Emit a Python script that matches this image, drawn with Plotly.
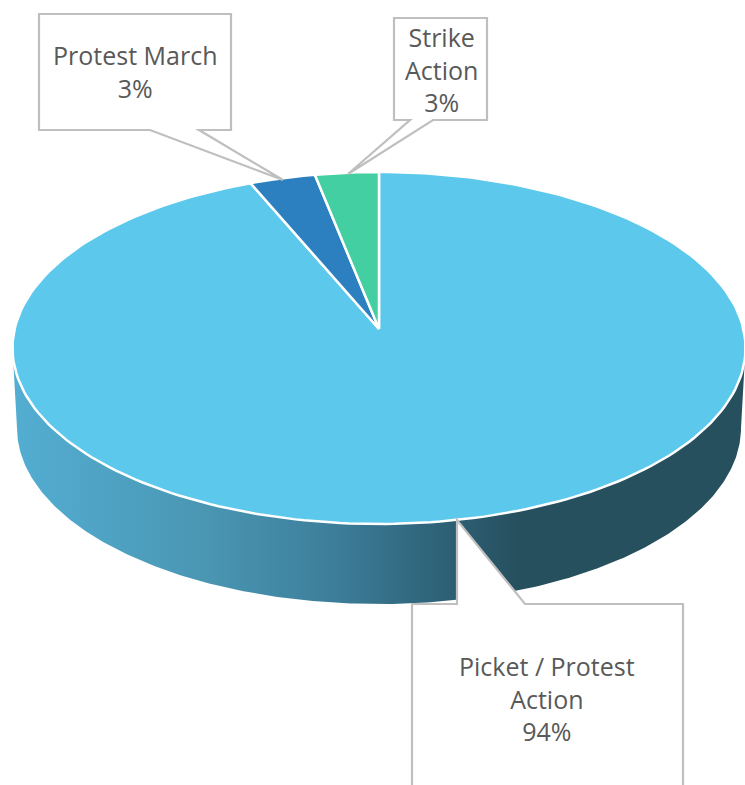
import numpy as np
import plotly.graph_objects as go

# --- data ---
categories = ["Picket / Protest<br>Action", "Protest March", "Strike<br>Action"]
values = [94.3, 2.9, 2.8]
slice_colors = ["#5CC8EC", "#2C80C0", "#43CFA2"]

# --- pie projection (layout, in page pixels) ---
CX, CY, RX, RY = 379.0, 348.0, 366.5, 176.0
APEX_Y = 329.0
WALL_RX, WALL_CY = 362.0, 428.0
FONT = dict(family="Open Sans", size=25, color="#595959")
EDGE = "#BFBFBF"


def rim(f0, f1, n=240):
    t = 2 * np.pi * np.linspace(f0, f1, n)
    return CX + RX * np.sin(t), CY - RY * np.cos(t)


fig = go.Figure()

# side wall: top rim front half, then the lower rim back
a = np.linspace(0, np.pi, 300)
wx = np.concatenate([CX + RX * np.cos(a), CX + WALL_RX * np.cos(a[::-1])])
wy = np.concatenate([CY + RY * np.sin(a), WALL_CY + RY * np.sin(a[::-1])])
fig.add_trace(go.Scatter(
    x=wx, y=wy, mode="lines", fill="toself", line=dict(width=0),
    fillgradient=dict(type="horizontal", colorscale=[
        [0.0, "#53AED2"], [0.255, "#4A97B4"], [0.433, "#3D7F9B"],
        [0.583, "#2E6277"], [0.69, "#27505F"], [1.0, "#27505F"]]),
    hoverinfo="skip", showlegend=False))

# top-face slices, from the values
total = sum(values)
ends = np.cumsum([0] + values) / total
for i, (v, c) in enumerate(zip(values, slice_colors)):
    x, y = rim(ends[i], ends[i + 1])
    fig.add_trace(go.Scatter(
        x=np.concatenate([[CX], x, [CX]]),
        y=np.concatenate([[APEX_Y], y, [APEX_Y]]),
        mode="lines", fill="toself", fillcolor=c,
        line=dict(color="#FFFFFF", width=2.5),
        hoverinfo="skip", showlegend=False))


def box(points):
    return "M" + " L".join(f"{x},{y}" for x, y in points) + " Z"


callouts = [
    [(412, 604), (457, 604), (457, 520), (525, 604), (683, 604), (683, 800), (412, 800)],
    [(39, 14), (231, 14), (231, 130), (199, 130), (283, 180), (150, 130), (39, 130)],
    [(394, 18), (487, 18), (487, 120), (433, 120), (348, 174), (410, 120), (394, 120)],
]
label_pos = [(547, 698), (135, 71), (441, 69)]

shapes = [dict(type="path", path=box(p), xref="x", yref="y", fillcolor="#FFFFFF",
               line=dict(color=EDGE, width=2.2), layer="above") for p in callouts]

annotations = [dict(x=px, y=py, xref="x", yref="y", showarrow=False, align="center",
                    xanchor="center", yanchor="middle", font=FONT,
                    text=f"{name}<br>{round(v / total * 100)}%")
               for name, v, (px, py) in zip(categories, values, label_pos)]

fig.update_layout(
    width=745, height=785, margin=dict(l=0, r=0, t=0, b=0),
    paper_bgcolor="#FFFFFF", plot_bgcolor="#FFFFFF", showlegend=False,
    xaxis=dict(range=[0, 745], visible=False, fixedrange=True),
    yaxis=dict(range=[785, 0], visible=False, fixedrange=True),
    shapes=shapes, annotations=annotations,
)

fig.write_html("out.html", config=dict(displayModeBar=False),
               post_script="document.body.style.margin='0';document.body.style.overflow='hidden';")
